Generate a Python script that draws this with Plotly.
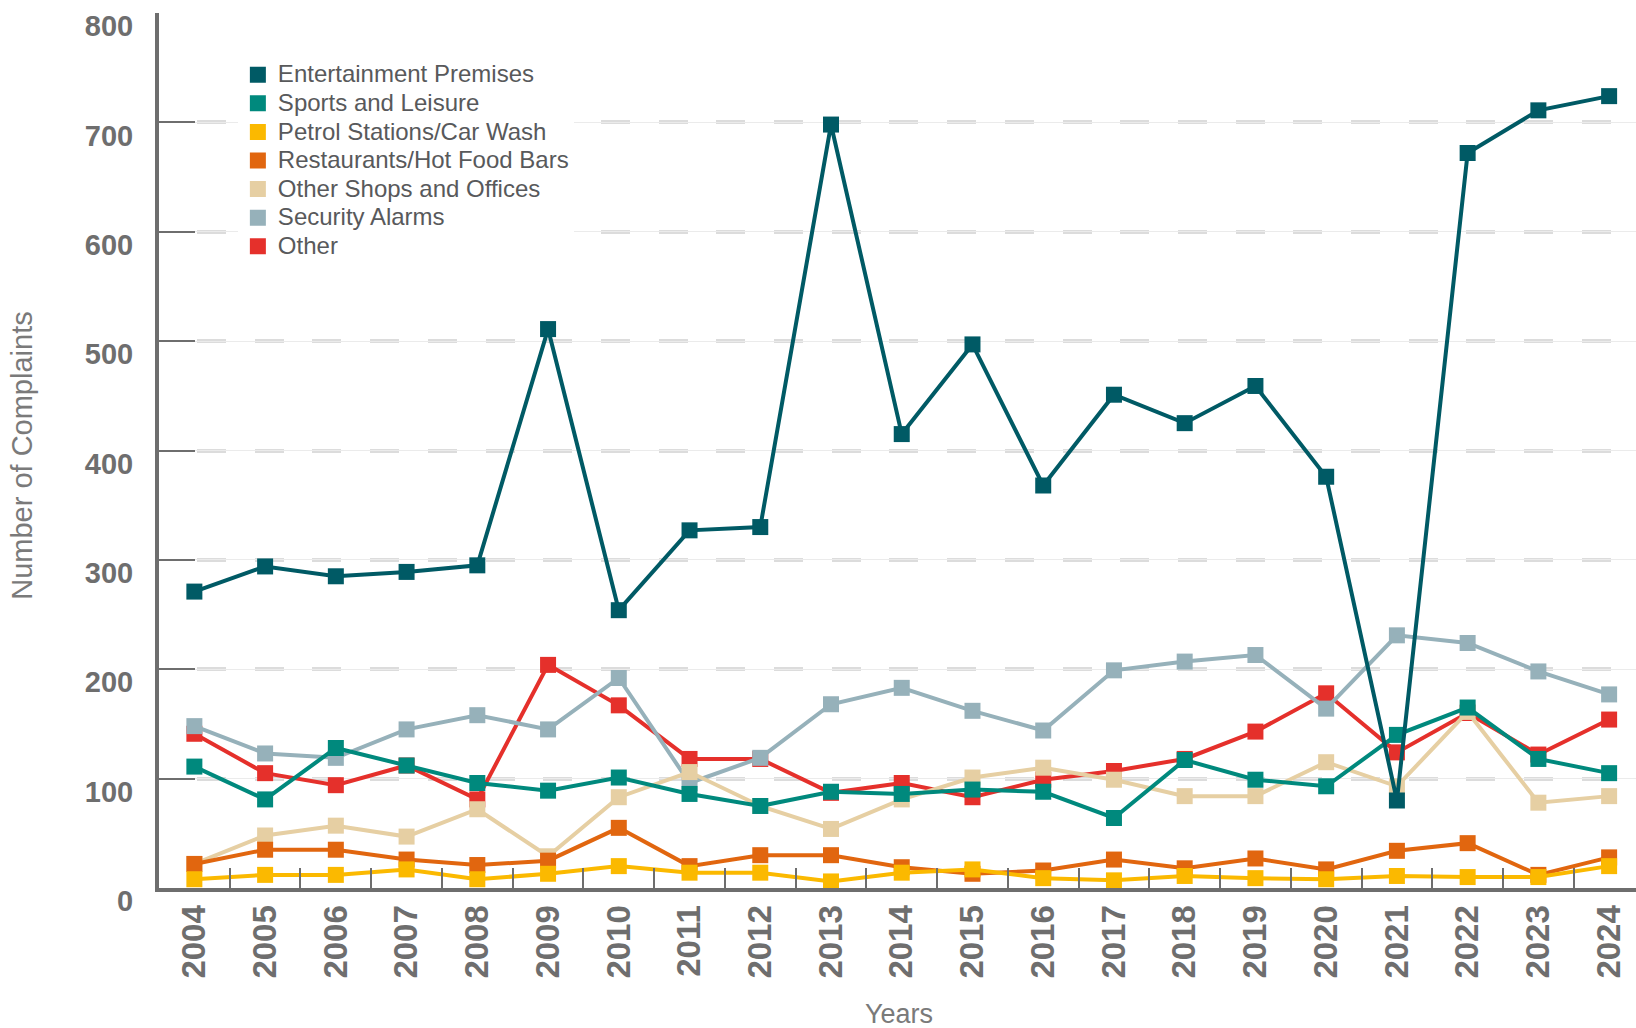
import plotly.graph_objects as go

years = [str(y) for y in range(2004, 2025)]

entertainment = [271, 294, 285, 289, 295, 511, 254, 327, 330, 698, 415, 497, 368, 451, 425, 459, 376, 80, 672, 711, 724]
sports = [111, 81, 128, 112, 96, 89, 101, 86, 75, 88, 86, 90, 88, 64, 117, 99, 93, 140, 165, 118, 105]
petrol = [8, 12, 12, 17, 8, 13, 20, 14, 14, 6, 14, 17, 9, 7, 11, 9, 8, 11, 10, 10, 20]
restaurants = [22, 35, 35, 26, 21, 25, 55, 20, 30, 30, 19, 13, 16, 26, 18, 27, 17, 34, 41, 12, 28]
other_shops = [22, 48, 57, 47, 72, 29, 83, 106, 75, 54, 81, 101, 110, 99, 84, 84, 115, 93, 161, 78, 84]
security = [148, 123, 119, 145, 158, 145, 192, 96, 119, 168, 183, 162, 144, 199, 207, 213, 164, 231, 224, 198, 177]
other = [141, 105, 94, 112, 81, 204, 167, 118, 118, 87, 96, 83, 99, 107, 118, 143, 178, 124, 160, 122, 154]

series_names = ["Entertainment Premises", "Sports and Leisure", "Petrol Stations/Car Wash",
                "Restaurants/Hot Food Bars", "Other Shops and Offices", "Security Alarms", "Other"]
series_values = [entertainment, sports, petrol, restaurants, other_shops, security, other]
series_colors = ["#005a65", "#00897d", "#fbb900", "#e1660f", "#e6cfa3", "#96b1ba", "#e5302b"]

y_ticks = list(range(0, 801, 100))

GRAY = "#6e6e6e"
BOLD = "Liberation Sans, Arial, Helvetica, sans-serif"
REG = "Liberation Sans, Arial, Helvetica, sans-serif"

fig = go.Figure()

# draw in reverse so that Entertainment Premises is on top
for name, vals, col in reversed(list(zip(series_names, series_values, series_colors))):
    fig.add_trace(go.Scatter(
        x=years, y=vals, name=name, mode="lines+markers",
        line=dict(color=col, width=4),
        marker=dict(symbol="square", size=16, color=col, line=dict(width=0)),
        showlegend=False, hoverinfo="x+y+name"))

# legend entries (square only)
for name, col in zip(series_names, series_colors):
    fig.add_trace(go.Scatter(
        x=[None], y=[None], mode="markers",
        name="<span style='font-size:24px'>" + name + "</span>",
        marker=dict(symbol="square", size=17, color=col, line=dict(width=0)),
        showlegend=True, hoverinfo="skip"))

# thin solid grid under the dashed one
fig.add_trace(go.Scatter(x=[None], y=[None], yaxis="y2", showlegend=False, hoverinfo="skip"))

dash_list = ["0px", "38px"] + ["29px", "28.7px"] * 27
griddash = ",".join(dash_list)

fig.update_layout(
    width=1636, height=1028,
    margin=dict(l=159, r=0, t=13, b=140),
    paper_bgcolor="white", plot_bgcolor="white",
    showlegend=True,
    legend=dict(
        x=0.0534, y=0.9516, xanchor="left", yanchor="top",
        bgcolor="white", borderwidth=0,
        font=dict(family=REG, size=19.7, color="#58595b"),
        traceorder="normal", tracegroupgap=0, itemwidth=30,
    ),
    xaxis=dict(
        type="category", categoryorder="array", categoryarray=years,
        range=[-0.5, 20.38],
        showgrid=False, zeroline=False,
        showline=True, linecolor=GRAY, linewidth=4,
        ticks="inside", tickson="boundaries", ticklen=20, tickwidth=2, tickcolor=GRAY,
        tickangle=-90,
        tickfont=dict(family=BOLD, size=33, color=GRAY, weight="bold"),
        ticklabelstandoff=0,
    ),
    yaxis=dict(
        range=[0, 800], tickvals=y_ticks, ticktext=[str(v) for v in y_ticks],
        showgrid=True, gridcolor="#dcdcdc", gridwidth=4, griddash=griddash,
        zeroline=False,
        showline=True, linecolor=GRAY, linewidth=4,
        ticks="inside", ticklen=36, tickwidth=2, tickcolor=GRAY,
        tickfont=dict(family=BOLD, size=29, color=GRAY, weight="bold"),
        ticklabelstandoff=16, ticklabelshift=13,
    ),
    yaxis2=dict(
        overlaying="y", range=[0, 800], tickvals=y_ticks,
        showgrid=True, gridcolor="#ebebeb", gridwidth=1,
        showticklabels=False, showline=False, zeroline=False, ticks="",
    ),
    annotations=[
        dict(text="Number of Complaints", xref="paper", yref="paper",
             x=-0.0928, y=0.495, textangle=-90, showarrow=False,
             font=dict(family=REG, size=29, color="#7a7a7a"),
             xanchor="center", yanchor="middle"),
        dict(text="Years", xref="paper", yref="paper",
             x=0.501, y=-0.144, showarrow=False,
             font=dict(family=REG, size=27, color="#7a7a7a"),
             xanchor="center", yanchor="middle"),
    ],
)

fig.write_html("out.html", config={"displayModeBar": False},
               post_script="document.body.style.margin='0';document.body.style.overflow='hidden';")
